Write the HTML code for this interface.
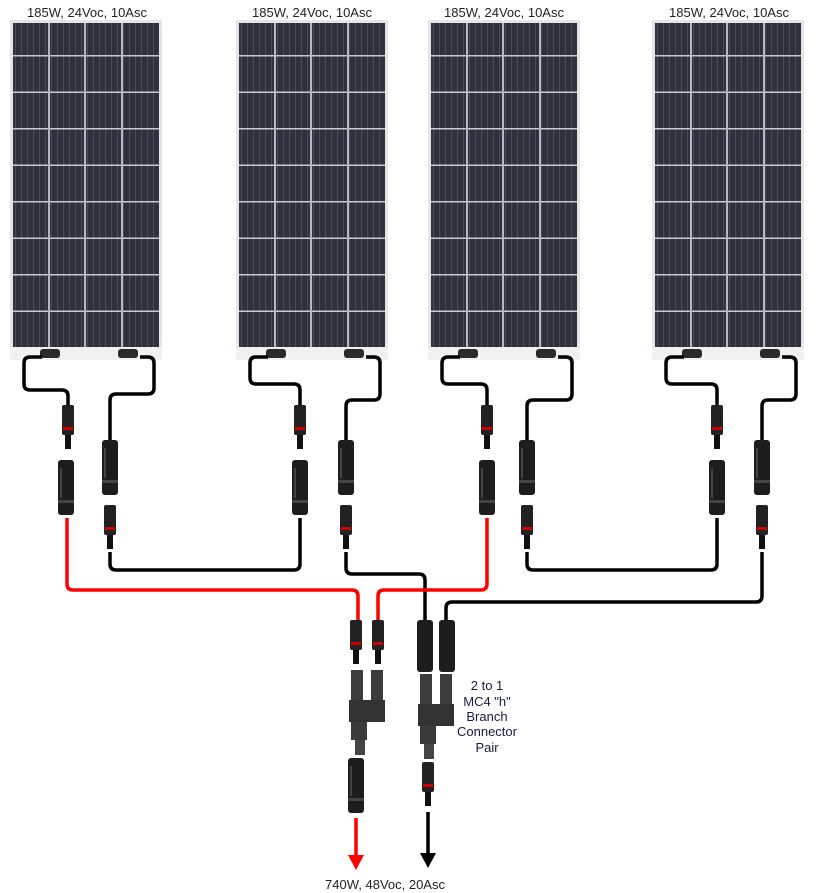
<!DOCTYPE html>
<html><head><style>
html,body{margin:0;padding:0;background:#fff;}
svg{display:block;}
text{font-family:"Liberation Sans",sans-serif;}
</style></head><body>
<svg width="820" height="893" viewBox="0 0 820 893" xmlns="http://www.w3.org/2000/svg">
<defs>
<pattern id="cells" x="0" y="0" width="6" height="36.5" patternUnits="userSpaceOnUse">
<rect width="6" height="36.5" fill="#2e303b"/>
<rect x="5" width="1" height="36.5" fill="#4a4c58"/>
<rect y="35" width="6" height="1.5" fill="#c8c9cf"/>
</pattern>
<g id="panel">
<rect x="0" y="0" width="152" height="340" fill="#e4e5e8"/>
<rect x="3" y="3" width="146" height="324" fill="url(#cells)"/>
<rect x="38" y="3" width="2" height="324" fill="#b8b9c0"/>
<rect x="74" y="3" width="2" height="324" fill="#b8b9c0"/>
<rect x="111" y="3" width="2" height="324" fill="#b8b9c0"/>
<rect x="0" y="327" width="152" height="13" fill="#f1f1f2"/>
<rect x="30" y="329" width="20" height="9" rx="3" fill="#2a2a2a"/>
<rect x="108" y="329" width="20" height="9" rx="3" fill="#2a2a2a"/>
</g>
<g id="male">
<rect x="-6" y="0" width="12" height="30" rx="2" fill="#222"/>
<rect x="-5" y="22" width="10" height="3" fill="#c00"/>
<rect x="-3" y="30" width="6" height="14" fill="#111"/>
</g>
<g id="female">
<rect x="-8" y="0" width="16" height="55" rx="3" fill="#1d1d1d"/>
<rect x="-6" y="8" width="2" height="30" fill="#444"/>
<rect x="-8" y="40" width="16" height="3" fill="#444"/>
</g>
<g id="ybody">
<rect x="-16" y="0" width="12" height="40" fill="#3c3c3c"/>
<rect x="4" y="0" width="12" height="40" fill="#3c3c3c"/>
<rect x="-18" y="30" width="36" height="22" fill="#333"/>
<rect x="-16" y="52" width="16" height="18" fill="#3a3a3a"/>
<rect x="-12" y="70" width="10" height="15" fill="#444"/>
</g>
</defs>

<g fill="#222" font-size="13" text-anchor="middle">
<text x="87" y="17">185W, 24Voc, 10Asc</text>
<text x="312" y="17">185W, 24Voc, 10Asc</text>
<text x="504" y="17">185W, 24Voc, 10Asc</text>
<text x="729" y="17">185W, 24Voc, 10Asc</text>
</g>
<use href="#panel" x="10" y="20"/>
<use href="#panel" x="236" y="20"/>
<use href="#panel" x="428" y="20"/>
<use href="#panel" x="652" y="20"/>

<g fill="none" stroke="#000" stroke-width="3.5" stroke-linejoin="round">
<!-- panel wires -->
<path d="M42 357 H30 Q24 357 24 363 V384 Q24 390 30 390 H62 Q68 390 68 396 V405"/>
<path d="M140 357 H148 Q154 357 154 363 V388 Q154 394 148 394 H116 Q110 394 110 400 V440"/>
<path d="M268 357 H256 Q250 357 250 363 V378 Q250 384 256 384 H294 Q300 384 300 390 V405"/>
<path d="M366 357 H374 Q380 357 380 363 V394 Q380 400 374 400 H352 Q346 400 346 406 V440"/>
<path d="M460 357 H448 Q442 357 442 363 V378 Q442 384 448 384 H481 Q487 384 487 390 V405"/>
<path d="M558 357 H566 Q572 357 572 363 V394 Q572 400 566 400 H533 Q527 400 527 406 V440"/>
<path d="M684 357 H672 Q666 357 666 363 V378 Q666 384 672 384 H711 Q717 384 717 390 V405"/>
<path d="M782 357 H790 Q796 357 796 363 V394 Q796 400 790 400 H768 Q762 400 762 406 V440"/>
<!-- series links -->
<path d="M110 552 V564 Q110 570 116 570 H294 Q300 570 300 564 V518"/>
<path d="M346 552 V568 Q346 574 352 574 H419 Q425 574 425 580 V620"/>
<path d="M527 552 V564 Q527 570 533 570 H711 Q717 570 717 564 V518"/>
<path d="M762 552 V596 Q762 602 756 602 H452 Q446 602 446 608 V620"/>
<path d="M428 812 V858"/>
</g>
<g fill="none" stroke="#f00" stroke-width="3.5" stroke-linejoin="round">
<path d="M67 518 V584 Q67 590 73 590 H352 Q358 590 358 596 V620"/>
<path d="M487 518 V584 Q487 590 481 590 H384 Q378 590 378 596 V620"/>
<path d="M356 818 V858"/>
</g>
<polygon points="348,855 364,855 356,870" fill="#f00"/>
<polygon points="420,853 436,853 428,868" fill="#000"/>

<!-- panel connectors -->
<use href="#male" x="68" y="405"/>
<use href="#female" x="66" y="460"/>
<use href="#female" x="110" y="440"/>
<use href="#male" x="110" y="505"/>
<use href="#male" x="300" y="405"/>
<use href="#female" x="300" y="460"/>
<use href="#female" x="346" y="440"/>
<use href="#male" x="346" y="505"/>
<use href="#male" x="487" y="405"/>
<use href="#female" x="487" y="460"/>
<use href="#female" x="527" y="440"/>
<use href="#male" x="527" y="505"/>
<use href="#male" x="717" y="405"/>
<use href="#female" x="717" y="460"/>
<use href="#female" x="762" y="440"/>
<use href="#male" x="762" y="505"/>

<!-- branch connectors -->
<use href="#male" x="356" y="620"/>
<use href="#male" x="378" y="620"/>
<use href="#ybody" x="367" y="670"/>
<use href="#female" x="356" y="758"/>
<rect x="417" y="620" width="16" height="52" rx="3" fill="#1d1d1d"/>
<rect x="439" y="620" width="16" height="52" rx="3" fill="#1d1d1d"/>
<use href="#ybody" x="436" y="674"/>
<use href="#male" x="428" y="762"/>

<g fill="#1a1a40" font-size="13" text-anchor="middle">
<text x="487" y="690">2 to 1</text>
<text x="487" y="706">MC4 "h"</text>
<text x="487" y="721">Branch</text>
<text x="487" y="736">Connector</text>
<text x="487" y="752">Pair</text>
</g>
<text x="385" y="889" font-size="13" fill="#222" text-anchor="middle">740W, 48Voc, 20Asc</text>
</svg>
</body></html>
